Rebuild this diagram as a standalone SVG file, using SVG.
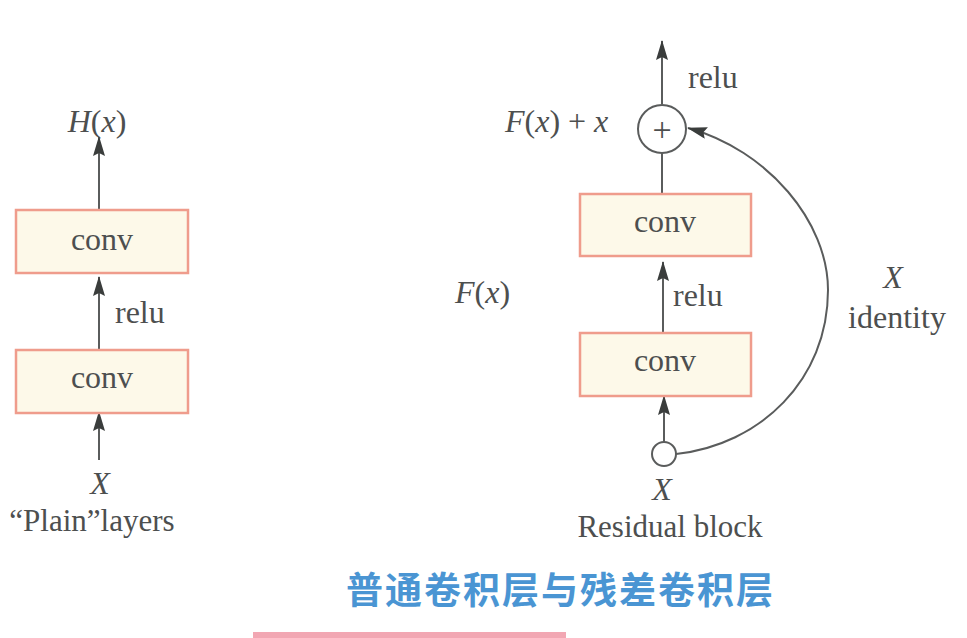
<svg xmlns="http://www.w3.org/2000/svg" width="967" height="638" viewBox="0 0 967 638">
<defs>
<marker id="ah" markerWidth="20" markerHeight="12" refX="19" refY="6" orient="auto" markerUnits="userSpaceOnUse" viewBox="0 0 20 12">
<path d="M0,0 L20,6 L0,12 L3,6 Z" fill="#3a3d3c"/>
</marker>
<style>
.box{fill:#fdf9e9;stroke:#ef9c8c;stroke-width:2.5}
.ln{fill:none;stroke:#5a5c5c;stroke-width:2}
.t{font-family:"Liberation Serif","Times New Roman",serif;fill:#4d4f4f;font-size:32px}
.c{text-anchor:middle}
.i{font-style:italic}
.cap{font-size:31px}
.cn{font-family:"Noto Sans CJK SC","Noto Sans",sans-serif;font-weight:bold;font-size:37px;fill:#4a95d3;letter-spacing:2px}
</style>
</defs>
<rect width="967" height="638" fill="#ffffff"/>
<g id="connectors">
<line class="ln" x1="99" y1="210" x2="99" y2="137" marker-end="url(#ah)"/>
<line class="ln" x1="99" y1="350" x2="99" y2="277" marker-end="url(#ah)"/>
<line class="ln" x1="99" y1="460" x2="99" y2="412" marker-end="url(#ah)"/>
<line class="ln" x1="662" y1="104" x2="662" y2="41" marker-end="url(#ah)"/>
<line class="ln" x1="662" y1="153" x2="662" y2="194"/>
<line class="ln" x1="663" y1="333" x2="663" y2="262" marker-end="url(#ah)"/>
<line class="ln" x1="664" y1="442" x2="664" y2="396" marker-end="url(#ah)"/>
<path class="ln" d="M676,454 C760,445 828,380 828,290 C828,222 768,150 688,128" marker-end="url(#ah)"/>
</g>
<g id="plain-conv1"><rect class="box" x="16" y="210" width="172" height="63"/><text class="t c" x="102" y="250">conv</text></g>
<g id="plain-conv2"><rect class="box" x="16" y="350" width="172" height="63"/><text class="t c" x="102" y="388">conv</text></g>
<g id="plain-labels">
<text class="t c" x="97" y="132"><tspan class="i">H</tspan>(<tspan class="i">x</tspan>)</text>
<text class="t" x="115" y="323">relu</text>
<text class="t c i" x="100" y="494">X</text>
<text class="t c cap" x="92" y="531">“Plain”layers</text>
</g>
<g id="res-plus"><circle cx="662" cy="129" r="24" fill="#ffffff" stroke="#5a5c5c" stroke-width="2"/><text class="t c" x="662" y="141" style="font-size:34px">+</text></g>
<g id="res-conv1"><rect class="box" x="580" y="194" width="171" height="62"/><text class="t c" x="665" y="232">conv</text></g>
<g id="res-conv2"><rect class="box" x="580" y="333" width="171" height="63"/><text class="t c" x="665" y="371">conv</text></g>
<g id="res-input"><circle cx="664" cy="454" r="12" fill="#ffffff" stroke="#5a5c5c" stroke-width="2"/></g>
<g id="res-labels">
<text class="t" x="688" y="88">relu</text>
<text class="t" x="505" y="132"><tspan class="i">F</tspan>(<tspan class="i">x</tspan>) + <tspan class="i">x</tspan></text>
<text class="t" x="455" y="303"><tspan class="i">F</tspan>(<tspan class="i">x</tspan>)</text>
<text class="t" x="673" y="306">relu</text>
<text class="t c i" x="893" y="288">X</text>
<text class="t c" x="897" y="328">identity</text>
<text class="t c i" x="662" y="500">X</text>
<text class="t c cap" x="670" y="537">Residual block</text>
</g>
<text class="cn" x="346" y="604">普通卷积层与残差卷积层</text>
<rect x="253" y="632" width="313" height="6" fill="#f2a7b3"/>
</svg>
